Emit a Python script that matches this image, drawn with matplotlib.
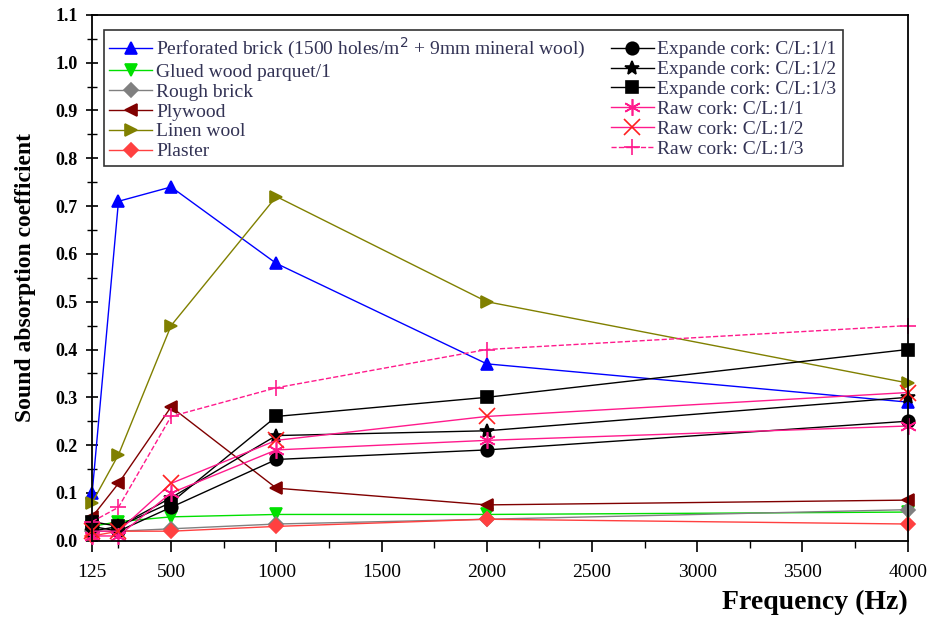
import matplotlib.pyplot as plt
import numpy as np

plt.rcParams['font.family'] = ['Liberation Serif', 'DejaVu Serif']

freq = [125, 250, 500, 1000, 2000, 4000]

perforated_brick = [0.10, 0.71, 0.74, 0.58, 0.37, 0.29]
glued_parquet = [0.03, 0.04, 0.05, 0.055, 0.055, 0.06]
rough_brick = [0.02, 0.02, 0.025, 0.035, 0.045, 0.065]
plywood = [0.05, 0.12, 0.28, 0.11, 0.075, 0.085]
linen_wool = [0.08, 0.18, 0.45, 0.72, 0.50, 0.33]
plaster = [0.01, 0.02, 0.02, 0.03, 0.045, 0.035]
exp_cork_11 = [0.03, 0.02, 0.07, 0.17, 0.19, 0.25]
exp_cork_12 = [0.02, 0.03, 0.09, 0.22, 0.23, 0.30]
exp_cork_13 = [0.04, 0.03, 0.08, 0.26, 0.30, 0.40]
raw_cork_11 = [0.01, 0.01, 0.10, 0.19, 0.21, 0.24]
raw_cork_12 = [0.02, 0.02, 0.12, 0.21, 0.26, 0.31]
raw_cork_13 = [0.04, 0.07, 0.26, 0.32, 0.40, 0.45]

fig = plt.figure(figsize=(9.31, 6.18), dpi=100)
ax = fig.add_axes([0.099, 0.125, 0.876, 0.851])

pink = '#ff1a8c'
series = [
    (perforated_brick, 'Perforated brick (1500 holes/m$^2$ + 9mm mineral wool)',
     dict(color='#0000ff', marker='^')),
    (glued_parquet, 'Glued wood parquet/1', dict(color='#00e000', marker='v')),
    (rough_brick, 'Rough brick', dict(color='#808080', marker='D', markersize=7)),
    (plywood, 'Plywood', dict(color='#800000', marker='<')),
    (linen_wool, 'Linen wool', dict(color='#808000', marker='>')),
    (plaster, 'Plaster', dict(color='#ff4040', marker='D', markersize=7)),
    (exp_cork_11, 'Expande cork: C/L:1/1', dict(color='black', marker='o')),
    (exp_cork_12, 'Expande cork: C/L:1/2', dict(color='black', marker='*', markersize=10)),
    (exp_cork_13, 'Expande cork: C/L:1/3', dict(color='black', marker='s')),
    (raw_cork_11, 'Raw cork: C/L:1/1', dict(color=pink, marker=(6, 2, 0), markersize=12)),
    (raw_cork_12, 'Raw cork: C/L:1/2', dict(color=pink, marker='x', markersize=12,
                                            markeredgecolor='#ff2020')),
    (raw_cork_13, 'Raw cork: C/L:1/3', dict(color=pink, marker='+', markersize=12,
                                            linestyle='--')),
]

for vals, label, style in series:
    kw = dict(linewidth=1.0, markersize=9, markeredgewidth=1.2)
    kw.update(style)
    ax.plot(freq, vals, label=label, clip_on=False, **kw)

ax.set_xlim(125, 4000)
ax.set_ylim(0.0, 1.1)
ax.set_xticks([125, 500, 1000, 1500, 2000, 2500, 3000, 3500, 4000])
ax.set_xticks(np.arange(250, 4000, 250), minor=True)
ax.set_yticks(np.arange(0, 1.11, 0.1))
ax.set_yticks(np.arange(0.05, 1.1, 0.1), minor=True)
ax.yaxis.set_major_formatter(plt.FormatStrFormatter('%.1f'))

ax.tick_params(axis='x', which='major', direction='out', length=8, width=1.2,
               labelsize=14, pad=9)
ax.tick_params(axis='x', which='minor', direction='out', length=5, width=1.0)
ax.tick_params(axis='y', which='major', direction='inout', length=9, width=1.2,
               labelsize=13, pad=6)
ax.tick_params(axis='y', which='minor', direction='inout', length=7, width=1.0)
for lab in ax.get_yticklabels():
    lab.set_fontweight('bold')
for sp in ax.spines.values():
    sp.set_linewidth(1.3)

ax.set_xlabel('Frequency (Hz)', fontsize=20, fontweight='bold', loc='right',
              labelpad=6)
ax.set_ylabel('Sound absorption coefficient', fontsize=17, fontweight='bold',
              labelpad=14)

leg = ax.legend(ncol=2, loc='upper left', bbox_to_anchor=(0.002, 0.99),
                fontsize=14, frameon=True, fancybox=False, edgecolor='black',
                handlelength=2.2, labelspacing=0.12, columnspacing=1.3,
                borderpad=0.3, handletextpad=0.2)
leg.get_frame().set_linewidth(1.2)
for t in leg.get_texts():
    t.set_color('#333355')

fig.savefig('out.png', dpi=100)
